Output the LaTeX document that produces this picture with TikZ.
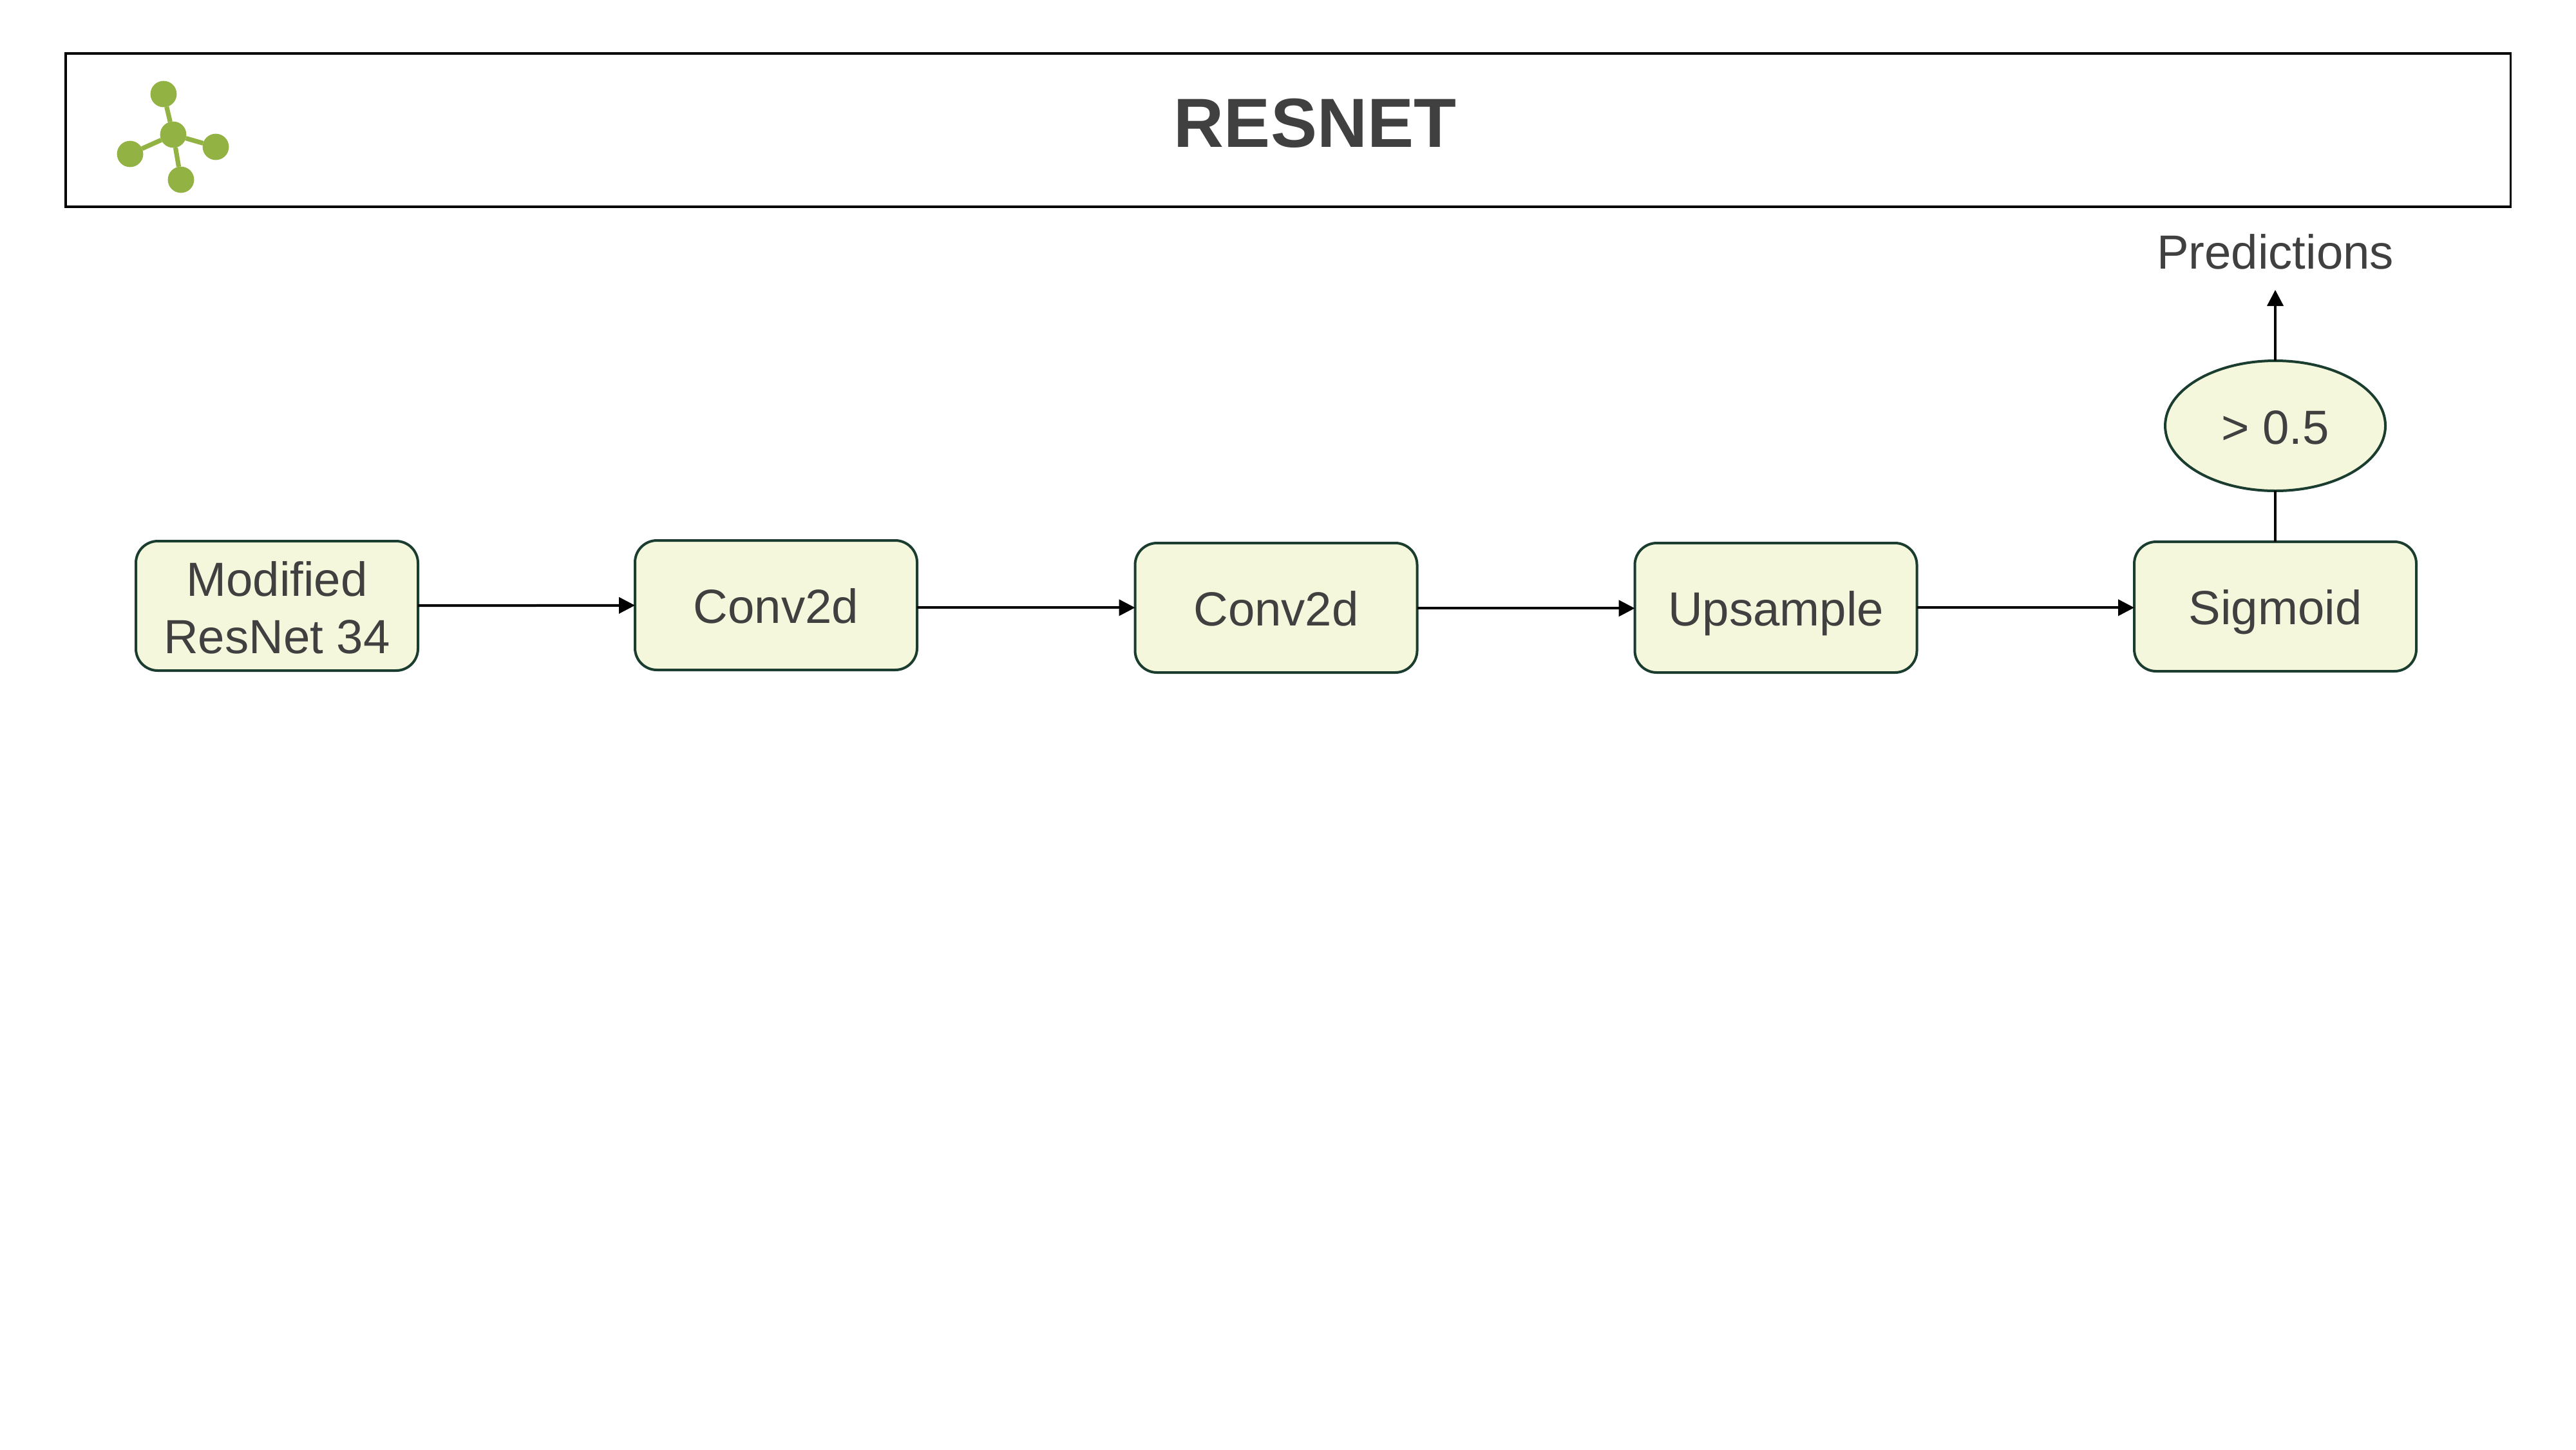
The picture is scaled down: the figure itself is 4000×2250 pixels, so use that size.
\documentclass[tikz,border=0pt]{standalone}
\usepackage{fontspec}
\setmainfont{Liberation Sans}
\usetikzlibrary{shapes.geometric,arrows.meta}
\definecolor{boxfill}{HTML}{F4F7DC}
\definecolor{boxline}{HTML}{1A3D2F}
\definecolor{ink}{HTML}{404040}
\definecolor{leaf}{HTML}{93B244}
\tikzset{
  x=0.25pt,y=-0.25pt,
  every node/.style={outer sep=0pt,inner sep=0pt,text=ink},
  procbox/.style={draw=boxline,fill=boxfill,line width=1pt,rounded corners=8.5pt,
    minimum width=109.5pt,minimum height=50.25pt,align=center,
    text height=14pt,text depth=0pt,
    font=\fontsize{18.6}{22.3}\selectfont},
  threshold/.style={ellipse,draw=boxline,fill=boxfill,line width=1pt,
    minimum width=85.5pt,minimum height=50.5pt,
    text height=14pt,text depth=0pt,
    font=\fontsize{18.6}{22.3}\selectfont},
  flow/.style={draw=black,line width=1pt,-{Triangle[length=6.25pt,width=6.25pt]}},
  plainlink/.style={draw=black,line width=1pt},
  bond/.style={draw=leaf,line width=1.8pt},
  atom/.style={circle,fill=leaf,minimum size=10.2pt},
}
\begin{document}
\begin{tikzpicture}
\useasboundingbox (0,0) rectangle (4000,2250);
\fill[white] (0,0) rectangle (4000,2250);
\node[draw=black,line width=0.76pt,minimum width=949pt,minimum height=59.5pt] (banner) at (2000,202) {};
\node[font=\bfseries\fontsize{27}{32}\selectfont,anchor=base] (title) at (2042,228.7) {RESNET};
% logo
\node[atom] (hub) at (269,209) {};
\node[atom] (a1) at (254,146) {};
\node[atom] (a2) at (202,239) {};
\node[atom] (a3) at (335,228) {};
\node[atom] (a4) at (281,279) {};
\draw[bond] (hub) -- (a1);
\draw[bond] (hub) -- (a2);
\draw[bond] (hub) -- (a3);
\draw[bond] (hub) -- (a4);
% boxes
\node[procbox,text height=37pt] (b1) at (430,940.5) {Modified\\ResNet 34};
\node[procbox] (b2) at (1205,939.5) {Conv2d};
\node[procbox] (b3) at (1981.5,943.5) {Conv2d};
\node[procbox] (b4) at (2757.5,943.5) {Upsample};
\node[procbox] (b5) at (3533,941.5) {Sigmoid};
\node[threshold] (th) at (3533,661) {> 0.5};
\node[font=\fontsize{18.6}{22.3}\selectfont,anchor=base] (pred) at (3533,417) {Predictions};
\coordinate (predtip) at (3533,450);
\draw[flow] (b1) -- (b2);
\draw[flow] ([yshift=-0.95pt]b2.east) -- ([yshift=0.05pt]b3.west);
\draw[flow] ([yshift=-0.2pt]b3.east) -- ([yshift=-0.2pt]b4.west);
\draw[flow] ([yshift=0.05pt]b4.east) -- ([yshift=-0.45pt]b5.west);
\draw[plainlink] (b5) -- (th);
\draw[flow] (th) -- (predtip);
\end{tikzpicture}
\end{document}
